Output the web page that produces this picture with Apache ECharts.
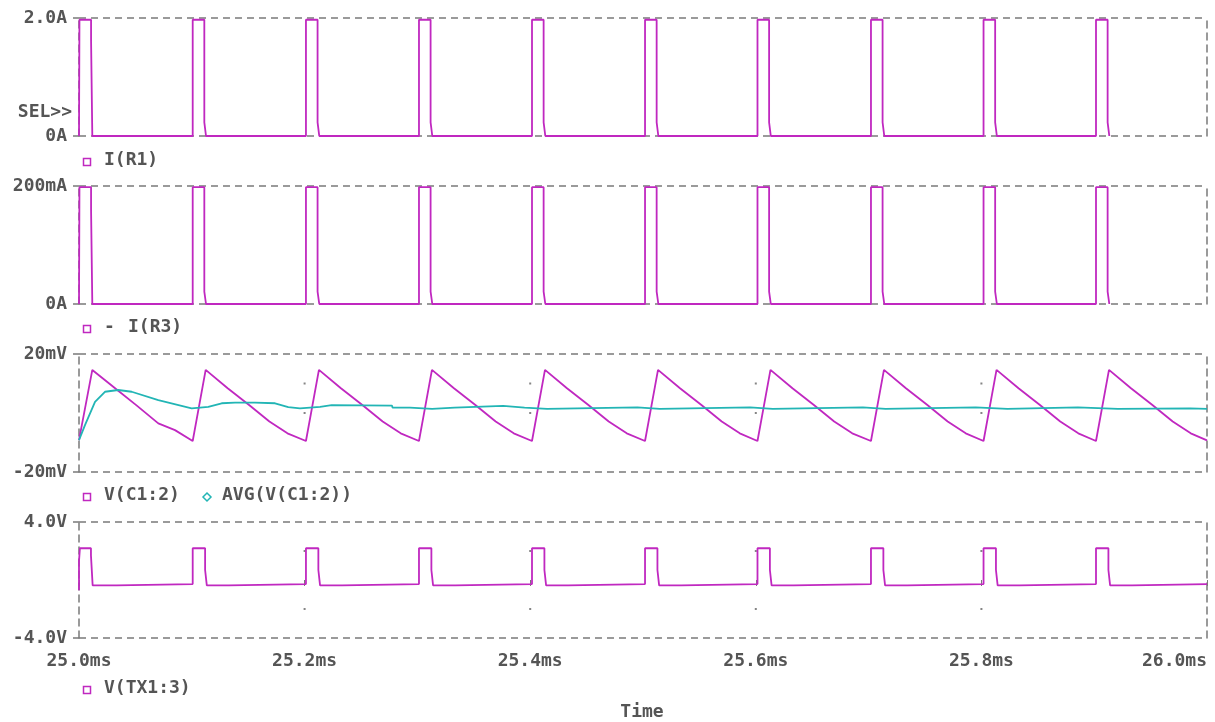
<!DOCTYPE html>
<html>
<head>
<meta charset="utf-8">
<script src="https://cdn.jsdelivr.net/npm/echarts@6/dist/echarts.min.js"></script>
<style>
html,body{margin:0;padding:0;background:#fff;}
#chart{width:1215px;height:722px;}
</style>
</head>
<body>
<div id="chart"></div>
<script>
//---- time axis ticks (ms)
var timeTicks = [25.0, 25.2, 25.4, 25.6, 25.8, 26.0];

//---- I(R1)  [ms, A]
var iR1 = [
    [25.0000,0],[25.0004,1.97],[25.0107,1.97],[25.0107,1.62],[25.0118,1.62],[25.0118,0],
    [25.1008,0],[25.1008,1.97],[25.1111,1.97],[25.1111,0.23],[25.1126,0.23],[25.1126,0],
    [25.2012,0],[25.2012,1.97],[25.2115,1.97],[25.2115,0.23],[25.2130,0.23],[25.2130,0],
    [25.3014,0],[25.3014,1.97],[25.3117,1.97],[25.3117,0.23],[25.3132,0.23],[25.3132,0],
    [25.4016,0],[25.4016,1.97],[25.4119,1.97],[25.4119,0.23],[25.4134,0.23],[25.4134,0],
    [25.5018,0],[25.5018,1.97],[25.5121,1.97],[25.5121,0.23],[25.5136,0.23],[25.5136,0],
    [25.6015,0],[25.6015,1.97],[25.6118,1.97],[25.6118,0.23],[25.6133,0.23],[25.6133,0],
    [25.7021,0],[25.7021,1.97],[25.7124,1.97],[25.7124,0.23],[25.7139,0.23],[25.7139,0],
    [25.8019,0],[25.8019,1.97],[25.8122,1.97],[25.8122,0.23],[25.8137,0.23],[25.8137,0],
    [25.9016,0],[25.9016,1.97],[25.9119,1.97],[25.9119,0.23],[25.9134,0.23],[25.9134,0]
];

//---- - I(R3)  [ms, mA]
var iR3 = [
    [25.0000,0],[25.0004,198],[25.0107,198],[25.0107,159],[25.0118,159],[25.0118,0],
    [25.1008,0],[25.1008,198],[25.1111,198],[25.1111,21],[25.1126,21],[25.1126,0],
    [25.2012,0],[25.2012,198],[25.2115,198],[25.2115,21],[25.2130,21],[25.2130,0],
    [25.3014,0],[25.3014,198],[25.3117,198],[25.3117,21],[25.3132,21],[25.3132,0],
    [25.4016,0],[25.4016,198],[25.4119,198],[25.4119,21],[25.4134,21],[25.4134,0],
    [25.5018,0],[25.5018,198],[25.5121,198],[25.5121,21],[25.5136,21],[25.5136,0],
    [25.6015,0],[25.6015,198],[25.6118,198],[25.6118,21],[25.6133,21],[25.6133,0],
    [25.7021,0],[25.7021,198],[25.7124,198],[25.7124,21],[25.7139,21],[25.7139,0],
    [25.8019,0],[25.8019,198],[25.8122,198],[25.8122,21],[25.8137,21],[25.8137,0],
    [25.9016,0],[25.9016,198],[25.9119,198],[25.9119,21],[25.9134,21],[25.9134,0]
];

//---- V(C1:2)  [ms, mV]
var vC1 = [
    [25.0000,-9.2],[25.0118,14.6],[25.0320,8.4],[25.0510,2.6],[25.0703,-3.5],[25.0851,-5.8],
    [25.1008,-9.5],[25.1123,14.6],[25.1318,8.4],[25.1508,2.7],[25.1688,-2.9],[25.1848,-6.9],
    [25.2012,-9.5],[25.2127,14.6],[25.2322,8.4],[25.2512,2.7],[25.2692,-2.9],[25.2852,-6.9],
    [25.3014,-9.5],[25.3129,14.6],[25.3324,8.4],[25.3514,2.7],[25.3694,-2.9],[25.3854,-6.9],
    [25.4016,-9.5],[25.4131,14.6],[25.4326,8.4],[25.4516,2.7],[25.4696,-2.9],[25.4856,-6.9],
    [25.5018,-9.5],[25.5133,14.6],[25.5328,8.4],[25.5518,2.7],[25.5698,-2.9],[25.5858,-6.9],
    [25.6015,-9.5],[25.6130,14.6],[25.6325,8.4],[25.6515,2.7],[25.6695,-2.9],[25.6855,-6.9],
    [25.7021,-9.5],[25.7136,14.6],[25.7331,8.4],[25.7521,2.7],[25.7701,-2.9],[25.7861,-6.9],
    [25.8019,-9.5],[25.8134,14.6],[25.8329,8.4],[25.8519,2.7],[25.8699,-2.9],[25.8859,-6.9],
    [25.9016,-9.5],[25.9131,14.6],[25.9326,8.4],[25.9516,2.7],[25.9696,-2.9],[25.9856,-6.9],
    [26.0000,-9.3]
];

//---- AVG(V(C1:2))  [ms, mV]
var avgC1 = [
    [25.0000,-9.2],[25.0053,-4.1],[25.0142,3.8],[25.0230,7.2],[25.0348,7.8],[25.0467,7.2],
    [25.0703,4.4],[25.0999,1.6],[25.1146,2.1],[25.1265,3.3],[25.1383,3.5],[25.1560,3.5],
    [25.1738,3.3],[25.1855,2.0],[25.1959,1.6],[25.2137,2.1],[25.2240,2.7],[25.2775,2.5],
    [25.2780,1.8],[25.2934,1.8],[25.2940,1.4],[25.3130,1.4],[25.3135,1.8],[25.3330,1.8],
    [25.3335,2.4],[25.3760,2.4],[25.3765,1.8],[25.3950,1.8],[25.3955,1.4],[25.4150,1.4],
    [25.4155,1.9],[25.4950,1.9],[25.4955,1.4],[25.5150,1.4],[25.5155,1.9],[25.5950,1.9],
    [25.5955,1.4],[25.6150,1.4],[25.6155,1.9],[25.6950,1.9],[25.6955,1.4],[25.7150,1.4],
    [25.7155,1.9],[25.7950,1.9],[25.7955,1.4],[25.8230,1.4],[25.8235,1.9],[25.8855,1.9],
    [25.8860,1.4],[25.9210,1.4],[25.9215,1.6],[25.9850,1.6],[25.9855,1.4],[26.0000,1.4]
];

//---- V(TX1:3)  [ms, V]
var vTX1 = [
    [25.0000,-0.7],[25.0000,1.3],[25.0008,1.3],[25.0008,2.19],[25.0106,2.19],[25.0106,1.7],
    [25.0121,1.7],[25.0121,-0.37],[25.0335,-0.37],[25.0335,-0.28],
    [25.1008,-0.28],[25.1008,2.19],[25.1118,2.19],[25.1118,0.69],[25.1133,0.69],[25.1133,-0.37],[25.1328,-0.37],[25.1328,-0.28],
    [25.2012,-0.28],[25.2012,2.19],[25.2122,2.19],[25.2122,0.69],[25.2137,0.69],[25.2137,-0.37],[25.2332,-0.37],[25.2332,-0.28],
    [25.3014,-0.28],[25.3014,2.19],[25.3124,2.19],[25.3124,0.69],[25.3139,0.69],[25.3139,-0.37],[25.3334,-0.37],[25.3334,-0.28],
    [25.4016,-0.28],[25.4016,2.19],[25.4126,2.19],[25.4126,0.69],[25.4141,0.69],[25.4141,-0.37],[25.4336,-0.37],[25.4336,-0.28],
    [25.5018,-0.28],[25.5018,2.19],[25.5128,2.19],[25.5128,0.69],[25.5143,0.69],[25.5143,-0.37],[25.5338,-0.37],[25.5338,-0.28],
    [25.6015,-0.28],[25.6015,2.19],[25.6125,2.19],[25.6125,0.69],[25.6140,0.69],[25.6140,-0.37],[25.6335,-0.37],[25.6335,-0.28],
    [25.7021,-0.28],[25.7021,2.19],[25.7131,2.19],[25.7131,0.69],[25.7146,0.69],[25.7146,-0.37],[25.7341,-0.37],[25.7341,-0.28],
    [25.8019,-0.28],[25.8019,2.19],[25.8129,2.19],[25.8129,0.69],[25.8144,0.69],[25.8144,-0.37],[25.8339,-0.37],[25.8339,-0.28],
    [25.9016,-0.28],[25.9016,2.19],[25.9126,2.19],[25.9126,0.69],[25.9141,0.69],[25.9141,-0.37],[25.9336,-0.37],[25.9336,-0.28],
    [26.0000,-0.28]
];

//---- sparse grid dots
var dotsC1 = [[25.2,10],[25.4,10],[25.6,10],[25.8,10],[25.2,0],[25.4,0],[25.6,0],[25.8,0]];
var dotsTX1 = [[25.2,-2],[25.4,-2],[25.6,-2],[25.8,-2],[25.2,2],[25.4,2],[25.6,2],[25.8,2]];

//---- y range per panel  [min, max, label min, label max]
var yRanges = [
    [0, 2, '0A', '2.0A'],
    [0, 200, '0A', '200mA'],
    [-20, 20, '-20mV', '20mV'],
    [-4, 4, '-4.0V', '4.0V']
];

var MAG = '#c028c0';
var CYAN = '#22b5b5';
var GRAY = '#7a7a7a';
var TXT = '#555555';
var FONT = 'DejaVu Sans Mono';

var gridTops = [18, 186, 354, 522];
var gridHeights = [118, 118, 118, 116];

var grids = [], xAxes = [], yAxes = [];
for (var i = 0; i < 4; i++) {
    grids.push({left: 79, right: 8, top: gridTops[i], height: gridHeights[i], containLabel: false, outerBoundsMode: 'none'});
    var last = (i === 3);
    xAxes.push({
        type: 'value', gridIndex: i, min: 25, max: 26, interval: 0.2,
        axisLine: {show: false},
        axisTick: {show: last, length: 6, lineStyle: {color: GRAY, width: 1}},
        axisLabel: {
            show: last, margin: 14, color: TXT, fontFamily: FONT, fontWeight: 'bold', fontSize: 18,
            alignMaxLabel: 'right',
            formatter: function (v) { return v.toFixed(1) + 'ms'; }
        },
        splitLine: {show: false}
    });
    var r = yRanges[i];
    (function (r) {
        yAxes.push({
            type: 'value', gridIndex: i, min: r[0], max: r[1], interval: r[1] - r[0],
            axisLine: {show: true, lineStyle: {color: GRAY, type: [7, 5], width: 1.5}},
            axisTick: {show: true, length: 6, lineStyle: {color: GRAY, width: 1.5}},
            axisLabel: {
                margin: 12, color: TXT, fontFamily: FONT, fontWeight: 'bold', fontSize: 18,
                formatter: function (v) { return v === r[0] ? r[2] : r[3]; }
            },
            splitLine: {show: true, lineStyle: {color: GRAY, type: [7, 5], width: 1.5}}
        });
    })(r);
    yAxes.push({
        type: 'value', gridIndex: i, position: 'right', min: r[0], max: r[1], interval: r[1] - r[0],
        axisLine: {show: true, lineStyle: {color: GRAY, type: [7, 5], width: 1.5}},
        axisTick: {show: false}, axisLabel: {show: false}, splitLine: {show: false}
    });
}

function lineSeries(name, data, gi, color) {
    return {
        name: name, type: 'line', xAxisIndex: gi, yAxisIndex: gi * 2, data: data,
        showSymbol: false, symbol: 'none', sampling: 'none', z: 3,
        lineStyle: {color: color, width: 1.8}
    };
}
function dotSeries(data, gi) {
    return {
        type: 'scatter', xAxisIndex: gi, yAxisIndex: gi * 2, data: data,
        symbol: 'rect', symbolSize: 2, itemStyle: {color: '#666'}, z: 2, silent: true
    };
}

var txt = function (x, y, s, align, color) {
    return {
        type: 'text', x: x, y: y,
        style: {text: s, fill: color || TXT, font: 'bold 18px "' + FONT + '"', textAlign: align || 'left', textVerticalAlign: 'middle'}
    };
};
var box = function (x, y) {
    return {type: 'rect', shape: {x: x - 3.5, y: y - 3.5, width: 7, height: 7}, style: {fill: 'none', stroke: MAG, lineWidth: 1.5}};
};

var graphics = [
    txt(72, 112, 'SEL>>', 'right'),
    box(87, 162), txt(104, 160, 'I(R1)'),
    box(87, 329), txt(104, 327, '-'), txt(128, 327, 'I(R3)'),
    box(87, 497), txt(104, 495, 'V(C1:2)'),
    {type: 'polygon', shape: {points: [[207, 493], [211, 497], [207, 501], [203, 497]]}, style: {fill: 'none', stroke: CYAN, lineWidth: 1.5}},
    txt(222, 495, 'AVG(V(C1:2))'),
    box(87, 690), txt(104, 688, 'V(TX1:3)'),
    txt(642, 712, 'Time', 'center')
];

var myChart = echarts.init(document.getElementById('chart'));
myChart.setOption({
    backgroundColor: '#fff',
    animation: false,
    grid: grids,
    xAxis: xAxes,
    yAxis: yAxes,
    graphic: graphics,
    series: [
        lineSeries('I(R1)', iR1, 0, MAG),
        lineSeries('- I(R3)', iR3, 1, MAG),
        dotSeries(dotsC1, 2),
        lineSeries('V(C1:2)', vC1, 2, MAG),
        lineSeries('AVG(V(C1:2))', avgC1, 2, CYAN),
        dotSeries(dotsTX1, 3),
        lineSeries('V(TX1:3)', vTX1, 3, MAG)
    ]
});
</script>
</body>
</html>
